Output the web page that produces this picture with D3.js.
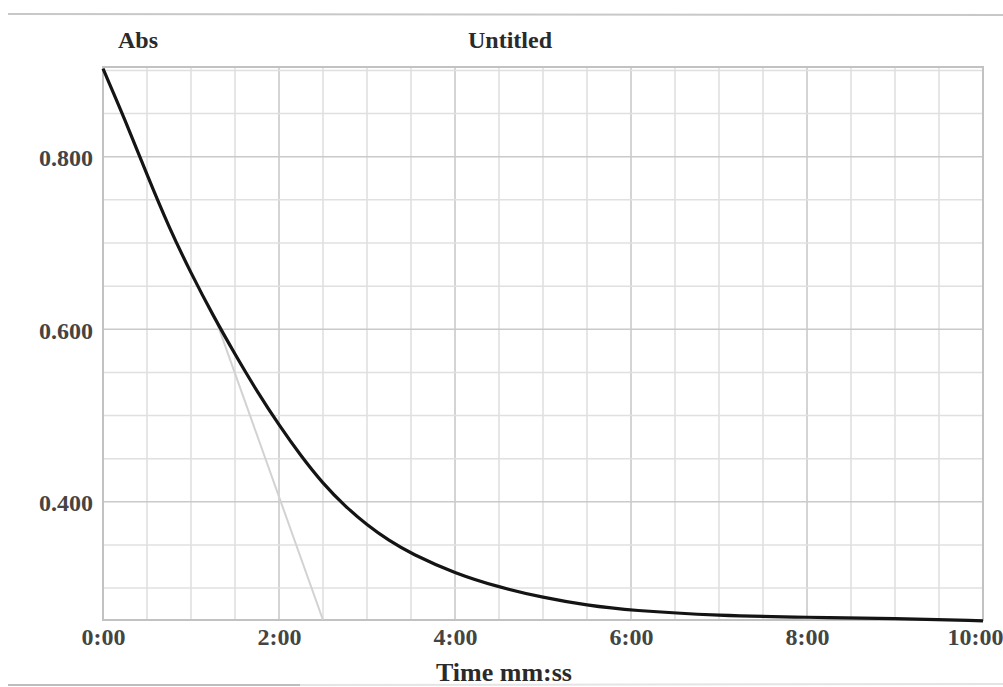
<!DOCTYPE html>
<html>
<head>
<meta charset="utf-8">
<script src="https://cdn.jsdelivr.net/npm/d3@7"></script>
<style>
  body { margin: 0; background: #fff; }
  svg text { font-family: "Liberation Serif", "DejaVu Serif", serif; font-weight: bold; }
</style>
</head>
<body>
<div id="container-chart"></div>
<script>
// Absorbance decay run.

//// DATA ///////////////////////////////////////////////////////////////////////
var timeSec = [0, 15, 30, 45, 60, 75, 90, 105, 120, 135, 150, 165, 180, 195, 210, 240, 270, 300, 330, 360,
               420, 480, 540, 600];
var absValues = [0.902, 0.843, 0.779, 0.718, 0.665, 0.616, 0.571, 0.528, 0.489, 0.453, 0.421, 0.395, 0.373,
                 0.355, 0.340, 0.317, 0.301, 0.289, 0.280, 0.274, 0.268, 0.266, 0.265, 0.262];

// light straight line (linear fit drawn by the program)
var fitTimes = [78, 150];
var fitAbs = [0.606, 0.263];

var xTicks = [0, 120, 240, 360, 480, 600];
var xTickLabels = ["0:00", "2:00", "4:00", "6:00", "8:00", "10:00"];
var yTicks = [0.4, 0.6, 0.8];
var yTickLabels = ["0.400", "0.600", "0.800"];

//// SETTINGS ///////////////////////////////////////////////////////////////////
var width = 1003,
    height = 687;

var plotLeft = 103,
    plotRight = 983,
    plotTop = 67,
    plotBottom = 620;

var yMin = 0.263,
    yMax = 0.904;

var minorX = d3.range(0, 601, 30);
var minorY = d3.range(0.30, 0.901, 0.05);

var text_size = 24;

//// UI SETUP ///////////////////////////////////////////////////////////////////
var svg = d3.select("#container-chart").append("svg")
            .attr("width", width)
            .attr("height", height);

var x = d3.scaleLinear().domain([0, 600]).range([plotLeft, plotRight]);
var y = d3.scaleLinear().domain([yMin, yMax]).range([plotBottom, plotTop]);

// scanner edges of the sheet
svg.append("line")
    .attr("x1", 8).attr("x2", width).attr("y1", 14).attr("y2", 15)
    .attr("stroke", "#c8c8c8").attr("stroke-width", 2);
svg.append("line")
    .attr("x1", 8).attr("x2", 300).attr("y1", 685).attr("y2", 685)
    .attr("stroke", "#bdbdbd").attr("stroke-width", 2);
svg.append("line")
    .attr("x1", 300).attr("x2", width).attr("y1", 685).attr("y2", 684)
    .attr("stroke", "#e4e4e4").attr("stroke-width", 2);

// Grid: minor lines every 0:30 and every 0.050.
var grid = svg.append("g");

grid.selectAll("line.vgrid")
    .data(minorX)
    .enter().append("line")
    .attr("class", "vgrid")
    .attr("x1", function(d) { return x(d); })
    .attr("x2", function(d) { return x(d); })
    .attr("y1", plotTop)
    .attr("y2", plotBottom)
    .attr("stroke", function(d) { return d % 120 === 0 ? "#c6c6c6" : "#dedede"; })
    .attr("stroke-width", 1.5);

grid.selectAll("line.hgrid")
    .data(minorY)
    .enter().append("line")
    .attr("class", "hgrid")
    .attr("x1", plotLeft)
    .attr("x2", plotRight)
    .attr("y1", function(d) { return y(d); })
    .attr("y2", function(d) { return y(d); })
    .attr("stroke", function(d) { return Math.round(d * 100) % 20 === 0 ? "#cacaca" : "#e0e0e0"; })
    .attr("stroke-width", 1.5);

// Plot frame.
svg.append("rect")
    .attr("x", plotLeft)
    .attr("y", plotTop)
    .attr("width", plotRight - plotLeft)
    .attr("height", plotBottom - plotTop)
    .attr("fill", "none")
    .attr("stroke", "#c2c2c2")
    .attr("stroke-width", 2);

// Axes, drawn with d3 and then stripped down to their labels.
var xAxis = svg.append("g")
    .attr("transform", "translate(0," + plotBottom + ")")
    .call(d3.axisBottom(x).tickValues(xTicks)
            .tickFormat(function(d, i) { return xTickLabels[i]; })
            .tickSize(0).tickPadding(8));
xAxis.select(".domain").remove();
xAxis.selectAll("text")
    .attr("fill", "#444")
    .style("font-size", text_size + "px");

// keep "10:00" inside the page
xAxis.selectAll("text").filter(function(d) { return d === 600; })
    .attr("text-anchor", "end")
    .attr("x", width - x(600));

var yAxis = svg.append("g")
    .attr("transform", "translate(" + (plotLeft - 10) + ",0)")
    .call(d3.axisLeft(y).tickValues(yTicks)
            .tickFormat(function(d, i) { return yTickLabels[i]; })
            .tickSize(0).tickPadding(0));
yAxis.select(".domain").remove();
yAxis.selectAll("text")
    .attr("fill", "#444")
    .attr("dy", "0.38em")
    .style("font-size", text_size + "px");

// Fit line (light) under the data curve.
svg.append("path")
    .datum(d3.zip(fitTimes, fitAbs))
    .attr("d", d3.line().x(function(d) { return x(d[0]); }).y(function(d) { return y(d[1]); }))
    .attr("fill", "none")
    .attr("stroke", "#d2d2d2")
    .attr("stroke-width", 2);

// Data curve.
svg.append("path")
    .datum(d3.zip(timeSec, absValues))
    .attr("d", d3.line()
                .curve(d3.curveBasis)
                .x(function(d) { return x(d[0]); })
                .y(function(d) { return y(d[1]); }))
    .attr("fill", "none")
    .attr("stroke", "#141414")
    .attr("stroke-width", 3.2)
    .attr("stroke-linejoin", "round");

// Titles.
svg.append("text")
    .attr("x", 118)
    .attr("y", 48)
    .attr("fill", "#2a2a2a")
    .style("font-size", text_size + "px")
    .text("Abs");

svg.append("text")
    .attr("x", 510)
    .attr("y", 48)
    .attr("text-anchor", "middle")
    .attr("fill", "#2a2a2a")
    .style("font-size", text_size + "px")
    .text("Untitled");

svg.append("text")
    .attr("x", 504)
    .attr("y", 681)
    .attr("text-anchor", "middle")
    .attr("fill", "#2a2a2a")
    .style("font-size", "26px")
    .text("Time mm:ss");
</script>
</body>
</html>
